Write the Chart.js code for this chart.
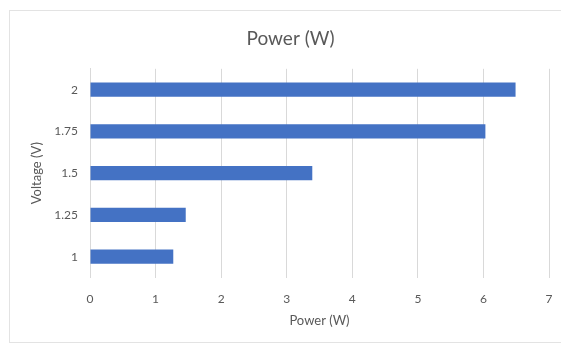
<!DOCTYPE html>
<html>
<head>
<meta charset="utf-8">
<script src="https://cdn.jsdelivr.net/npm/chart.js@4"></script>
<style>
  html, body { margin: 0; padding: 0; background: #fff; overflow: hidden; width: 561px; height: 343px; }
  #frame { position: absolute; left: 9px; top: 10px; width: 561px; height: 331px; border: 1px solid #e3e3e3; background: #fff; }
  #chart { display: block; }
</style>
</head>
<body>
<div id="frame"><canvas id="chart" width="561" height="331"></canvas></div>
<script>
// Supply voltage steps and the power measured at each one
const voltages = ['1', '1.25', '1.5', '1.75', '2'];
const powerWatts = [1.27, 1.46, 3.39, 6.03, 6.49];
const powerTicks = [0, 1, 2, 3, 4, 5, 6, 7];

const textColor = '#595959';
const gridColor = '#d9d9d9';
const fontFamily = 'Lato, "Open Sans", sans-serif';

new Chart(document.getElementById('chart'), {
  type: 'bar',
  data: {
    labels: voltages,
    datasets: [{
      label: 'Power (W)',
      data: powerWatts,
      backgroundColor: '#4472c4',
      borderWidth: 0,
      barPercentage: 0.34,
      categoryPercentage: 1
    }]
  },
  options: {
    indexAxis: 'y',
    responsive: false,
    animation: false,
    layout: { padding: 0 },
    plugins: {
      legend: { display: false },
      tooltip: { enabled: false },
      title: {
        display: true,
        text: 'Power (W)',
        color: textColor,
        font: { family: fontFamily, size: 19, weight: 'normal' },
        padding: { top: 16, bottom: 19 }
      }
    },
    scales: {
      x: {
        min: powerTicks[0],
        max: powerTicks[powerTicks.length - 1],
        afterBuildTicks(scale) { scale.ticks = powerTicks.map(v => ({ value: v })); },
        grid: { color: gridColor, lineWidth: 1, drawTicks: false },
        border: { display: false },
        ticks: { color: textColor, font: { family: fontFamily, size: 12 }, padding: 14 },
        title: {
          display: true,
          text: 'Power (W)',
          color: textColor,
          font: { family: fontFamily, size: 13 },
          padding: { top: 0, bottom: 13 }
        },
        afterFit(scale) { scale.height = 64.5; }
      },
      y: {
        reverse: true,
        grid: { display: false, drawTicks: false },
        border: { display: true, color: gridColor, width: 1 },
        ticks: { color: textColor, font: { family: fontFamily, size: 12 }, padding: 12 },
        title: {
          display: true,
          text: 'Voltage (V)',
          color: textColor,
          font: { family: fontFamily, size: 13 },
          padding: { top: 19, bottom: 0 }
        },
        afterFit(scale) { scale.width = 80; }
      },
      // empty strip that keeps the plot clear of the right edge
      rightGap: {
        type: 'linear',
        position: 'right',
        display: true,
        grid: { display: false, drawTicks: false },
        border: { display: false },
        ticks: { display: false },
        afterFit(scale) { scale.width = 22; }
      }
    }
  }
});
</script>
</body>
</html>
